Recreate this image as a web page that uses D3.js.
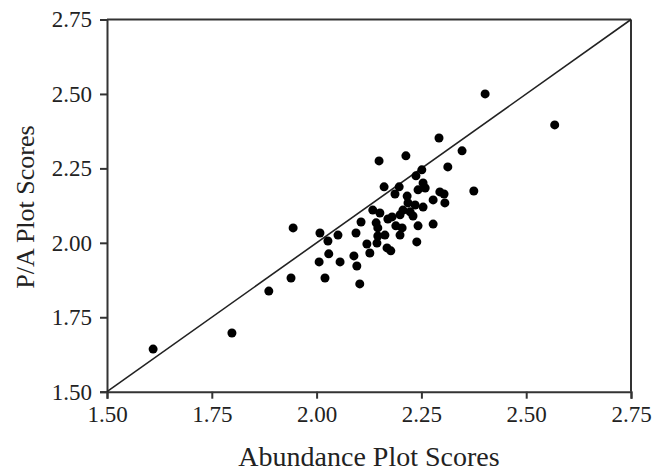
<!DOCTYPE html>
<html><head><meta charset="utf-8">
<script src="https://cdn.jsdelivr.net/npm/d3@7/dist/d3.min.js"></script>
<style>body{margin:0;background:#fff}svg{display:block}</style>
</head><body><svg id="c" width="652" height="474"></svg>
<script>
const xTicks = [1.50, 1.75, 2.00, 2.25, 2.50, 2.75];
const yTicks = [1.50, 1.75, 2.00, 2.25, 2.50, 2.75];
const abundance = [1.610,1.798,1.886,1.939,1.944,2.006,2.008,2.020,2.027,2.029,2.051,2.056,2.089,2.094,2.096,2.103,2.106,2.120,2.127,2.134,2.142,2.144,2.146,2.151,2.149,2.161,2.163,2.168,2.170,2.177,2.180,2.187,2.189,2.197,2.199,2.199,2.204,2.206,2.213,2.216,2.218,2.223,2.230,2.235,2.237,2.239,2.242,2.242,2.251,2.254,2.254,2.259,2.278,2.278,2.292,2.294,2.304,2.306,2.313,2.347,2.375,2.402,2.568,2.146];
const pa = [1.643,1.697,1.838,1.882,2.050,1.936,2.033,1.882,2.006,1.963,2.026,1.936,1.956,2.033,1.922,1.862,2.070,1.996,1.966,2.110,2.067,1.999,2.050,2.100,2.275,2.188,2.026,1.983,2.080,1.973,2.087,2.164,2.057,2.188,2.026,2.094,2.050,2.110,2.292,2.157,2.134,2.104,2.090,2.127,2.225,2.003,2.057,2.178,2.245,2.201,2.120,2.184,2.144,2.063,2.352,2.171,2.164,2.134,2.255,2.309,2.174,2.500,2.396,2.023];

const svg = d3.select('#c');
const L = 107, R = 631, T = 19.5, B = 391.7;
const x = d3.scaleLinear().domain([1.5, 2.75]).range([L, R]);
const y = d3.scaleLinear().domain([1.5, 2.75]).range([B, T]);
const font = '"Liberation Serif","Times New Roman",serif';
const axColor = '#333';

svg.append('line').attr('x1', L).attr('x2', R).attr('y1', T).attr('y2', T).attr('stroke', axColor).attr('stroke-width', 2);
svg.append('line').attr('x1', R).attr('x2', R).attr('y1', T).attr('y2', B).attr('stroke', axColor).attr('stroke-width', 2);

const xa = svg.append('g').attr('transform', `translate(0,${B})`)
  .call(d3.axisBottom(x).tickValues(xTicks).tickFormat(d3.format('.2f')).tickSize(7).tickPadding(7));
const ya = svg.append('g').attr('transform', `translate(${L},0)`)
  .call(d3.axisLeft(y).tickValues(yTicks).tickFormat(d3.format('.2f')).tickSize(7).tickPadding(8));
[xa, ya].forEach(g => {
  g.select('.domain').attr('stroke', axColor).attr('stroke-width', 2);
  g.selectAll('.tick line').attr('stroke', axColor).attr('stroke-width', 2);
  g.selectAll('.tick text').attr('font-family', font).attr('font-size', 23).attr('fill', '#222');
});

svg.append('line').attr('x1', x(1.5)).attr('y1', y(1.5)).attr('x2', x(2.75)).attr('y2', y(2.75))
  .attr('stroke', '#222').attr('stroke-width', 1.6);

svg.append('g').selectAll('circle').data(abundance).join('circle')
  .attr('cx', d => x(d)).attr('cy', (d, i) => y(pa[i])).attr('r', 4.5).attr('fill', '#000');

svg.append('text').attr('x', 369).attr('y', 466).attr('text-anchor', 'middle')
  .attr('font-family', font).attr('font-size', 28).attr('fill', '#222').text('Abundance Plot Scores');
svg.append('text').attr('transform', `translate(34,207) rotate(-90)`).attr('text-anchor', 'middle')
  .attr('font-family', font).attr('font-size', 26).attr('fill', '#222').text('P/A Plot Scores');
</script></body></html>
